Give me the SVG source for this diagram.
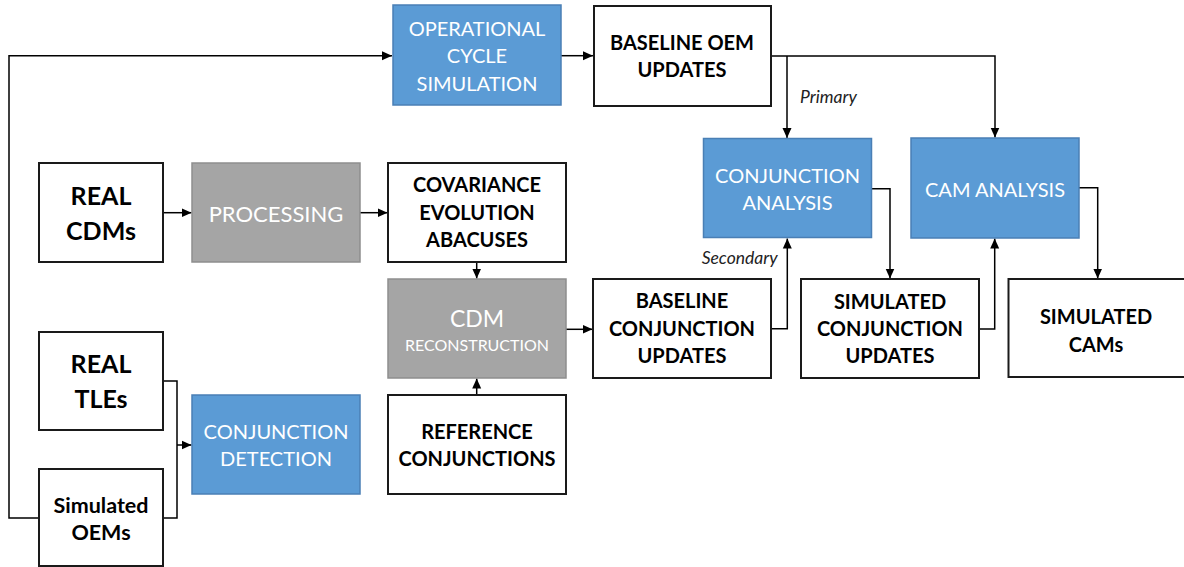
<svg xmlns="http://www.w3.org/2000/svg" width="1184" height="567" viewBox="0 0 1184 567">
  <style>
    .box { fill: #ffffff; stroke: #1a1a1a; stroke-width: 2; }
    .blue { fill: #5b9bd5; stroke: #4a7fb5; stroke-width: 1.5; }
    .gray { fill: #a5a5a5; stroke: #8e8e8e; stroke-width: 1.5; }
    .lbl { font-family: Lato, "Liberation Sans", sans-serif; font-weight: bold; font-size: 20px; fill: #000; text-anchor: middle; }
    .big { font-size: 25px; }
    .mid { font-size: 21.5px; }
    .wt { font-family: Lato, "Liberation Sans", sans-serif; font-size: 20px; fill: #ffffff; text-anchor: middle; }
    .wt-l { font-size: 22px; }
    .wt-xl { font-size: 23px; }
    .wt-s { font-size: 16px; }
    .note { font-family: Lato, "Liberation Sans", sans-serif; font-style: italic; font-size: 17.5px; fill: #222; }
    .wire { fill: none; stroke: #000; stroke-width: 1.5; }
  </style>
  <defs>
    <marker id="arrow" markerUnits="userSpaceOnUse" markerWidth="10" markerHeight="10" viewBox="0 0 10 10" refX="10" refY="5" orient="auto">
      <path d="M0,0.5 L10,5 L0,9.5 Z" fill="#000"/>
    </marker>
  </defs>

  <rect width="1184" height="567" fill="#ffffff"/>

  <!-- connectors -->
  <g id="connectors">
    <path class="wire" d="M39,518 H9 V55.7 H392" marker-end="url(#arrow)"/>
    <path class="wire" d="M561,55.7 H593" marker-end="url(#arrow)"/>
    <path class="wire" d="M771,56 H995 V137.5" marker-end="url(#arrow)"/>
    <path class="wire" d="M787,56 V138" marker-end="url(#arrow)"/>
    <path class="wire" d="M163,212.7 H191.5" marker-end="url(#arrow)"/>
    <path class="wire" d="M360,212.7 H387.5" marker-end="url(#arrow)"/>
    <path class="wire" d="M476.7,262 V278.5" marker-end="url(#arrow)"/>
    <path class="wire" d="M476.7,395 V378.5" marker-end="url(#arrow)"/>
    <path class="wire" d="M566,329.3 H592.5" marker-end="url(#arrow)"/>
    <path class="wire" d="M771,328.7 H787.3 V238.5" marker-end="url(#arrow)"/>
    <path class="wire" d="M871.7,188.7 H890 V278.5" marker-end="url(#arrow)"/>
    <path class="wire" d="M979,329 H994.7 V238.5" marker-end="url(#arrow)"/>
    <path class="wire" d="M1079,187.7 H1097.7 V278.5" marker-end="url(#arrow)"/>
    <path class="wire" d="M163,381 H177 V518 H163"/>
    <path class="wire" d="M177,445 H191.5" marker-end="url(#arrow)"/>
  </g>

  <!-- nodes -->
  <g id="operational-cycle">
    <rect class="blue" x="393" y="5" width="168" height="100"/>
    <text class="wt" x="477" y="35.7">OPERATIONAL</text>
    <text class="wt" x="477" y="63.3">CYCLE</text>
    <text class="wt" x="477" y="90.7">SIMULATION</text>
  </g>
  <g id="baseline-oem">
    <rect class="box" x="594" y="6" width="177" height="100"/>
    <text class="lbl" x="682" y="50">BASELINE OEM</text>
    <text class="lbl" x="682" y="77">UPDATES</text>
  </g>
  <g id="real-cdms">
    <rect class="box" x="39" y="163" width="124" height="99"/>
    <text class="lbl big" x="101" y="205">REAL</text>
    <text class="lbl big" x="101" y="240">CDMs</text>
  </g>
  <g id="processing">
    <rect class="gray" x="192" y="163" width="168" height="99"/>
    <text class="wt wt-l" x="276" y="221.7">PROCESSING</text>
  </g>
  <g id="covariance">
    <rect class="box" x="388" y="163" width="178" height="99"/>
    <text class="lbl" x="477" y="192.3">COVARIANCE</text>
    <text class="lbl" x="477" y="220">EVOLUTION</text>
    <text class="lbl" x="477" y="247.3">ABACUSES</text>
  </g>
  <g id="cdm-reconstruction">
    <rect class="gray" x="388" y="279" width="178" height="99"/>
    <text class="wt wt-xl" x="477" y="326.7">CDM</text>
    <text class="wt wt-s" x="477" y="351">RECONSTRUCTION</text>
  </g>
  <g id="baseline-conjunction">
    <rect class="box" x="593" y="279" width="178" height="99"/>
    <text class="lbl" x="682" y="308.3">BASELINE</text>
    <text class="lbl" x="682" y="336">CONJUNCTION</text>
    <text class="lbl" x="682" y="363.3">UPDATES</text>
  </g>
  <g id="conjunction-analysis">
    <rect class="blue" x="703.5" y="138.5" width="168" height="99"/>
    <text class="wt" x="787.5" y="182.7">CONJUNCTION</text>
    <text class="wt" x="787.5" y="210">ANALYSIS</text>
  </g>
  <g id="cam-analysis">
    <rect class="blue" x="911" y="138" width="168" height="100"/>
    <text class="wt" x="995" y="196.7">CAM ANALYSIS</text>
  </g>
  <g id="simulated-conjunction">
    <rect class="box" x="801" y="279" width="178" height="99"/>
    <text class="lbl" x="890" y="309">SIMULATED</text>
    <text class="lbl" x="890" y="336">CONJUNCTION</text>
    <text class="lbl" x="890" y="363.3">UPDATES</text>
  </g>
  <g id="simulated-cams">
    <rect class="box" x="1008.5" y="279" width="180" height="98"/>
    <text class="lbl" x="1096" y="324.3">SIMULATED</text>
    <text class="lbl" x="1096" y="351.7">CAMs</text>
  </g>
  <g id="real-tles">
    <rect class="box" x="39" y="332" width="124" height="98"/>
    <text class="lbl big" x="101" y="373.3">REAL</text>
    <text class="lbl big" x="101" y="408.3">TLEs</text>
  </g>
  <g id="simulated-oems">
    <rect class="box" x="39" y="469" width="124" height="97"/>
    <text class="lbl mid" x="101" y="513.3">Simulated</text>
    <text class="lbl mid" x="101" y="540">OEMs</text>
  </g>
  <g id="conjunction-detection">
    <rect class="blue" x="192" y="395" width="168" height="99"/>
    <text class="wt" x="276" y="439.3">CONJUNCTION</text>
    <text class="wt" x="276" y="466">DETECTION</text>
  </g>
  <g id="reference-conjunctions">
    <rect class="box" x="388" y="395" width="178" height="99"/>
    <text class="lbl" x="477" y="439.3">REFERENCE</text>
    <text class="lbl" x="477" y="466">CONJUNCTIONS</text>
  </g>

  <!-- branch labels -->
  <text class="note" x="800" y="103">Primary</text>
  <text class="note" x="701.7" y="264.3">Secondary</text>
</svg>
